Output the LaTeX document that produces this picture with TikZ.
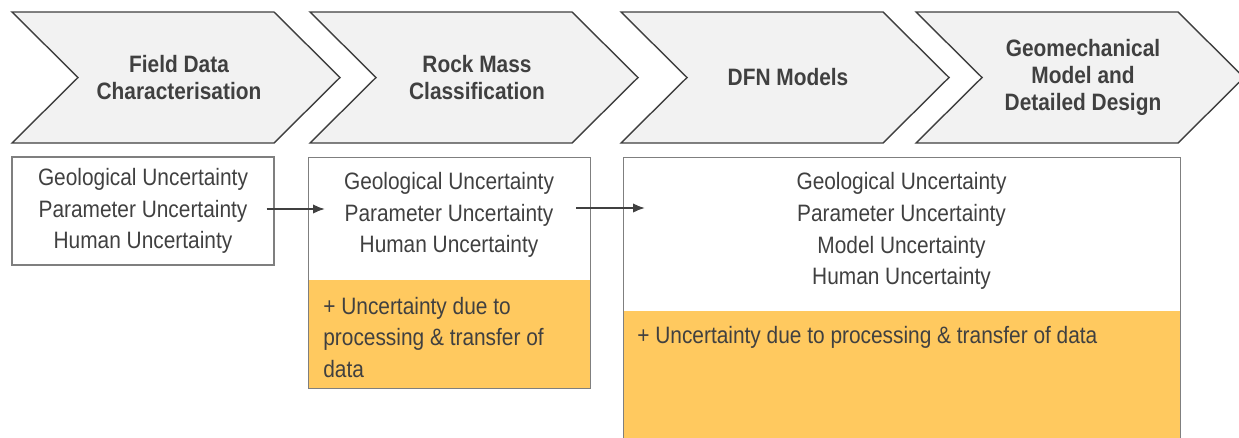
\documentclass[tikz,border=0pt]{standalone}
\usepackage{fontspec}
\setmainfont{Liberation Sans}[FakeStretch=0.88]
\usetikzlibrary{arrows.meta}
\usetikzlibrary{calc}
\definecolor{chevfill}{HTML}{F2F2F2}
\definecolor{chevline}{HTML}{3F3F3F}
\definecolor{boxline}{HTML}{7F7F7F}
\definecolor{txtgray}{HTML}{404040}
\definecolor{uncorange}{HTML}{FFC95F}
\tikzset{
    chevron/.style={draw=chevline,fill=chevfill,line width=0.8pt,line join=miter},
    headtext/.style={font=\fontsize{13.5}{15.3}\selectfont\bfseries,text=txtgray,align=center},
    uncbox/.style={draw=boxline,line width=0.6pt,inner sep=0pt},
    unctext/.style={font=\fontsize{13.5}{18.1}\selectfont,text=txtgray,align=center,inner sep=0pt},
    addfill/.style={fill=uncorange,inner sep=0pt},
    addtext/.style={font=\fontsize{13.5}{17.9}\selectfont,text=txtgray,align=left,inner sep=0pt},
    flowarrow/.style={-{Latex[length=2.4mm,width=1.9mm]},line width=1.1pt,draw=txtgray},
}

\begin{document}
\begin{tikzpicture}[x=0.02cm,y=-0.02cm]
\useasboundingbox (0,0) rectangle (1239,437);
% process steps
\foreach \x/\name/\txt in {12/fdhead/{Field Data\\Characterisation},310/rmhead/{Rock Mass\\Classification},621/dfnhead/{DFN Models},916/gmhead/{Geomechanical\\Model and\\Detailed Design}}{
    \draw[chevron] (\x,12) -- ++(262,0) -- ++(66,65.5) -- ++(-66,65.5) -- ++(-262,0) -- ++(66,-65.5) -- cycle;
    \node[headtext] (\name) at (\x+167,77.5) {\txt};
}
% uncertainty boxes
\node[uncbox,unctext,minimum width=5.24cm,minimum height=2.16cm] (fdbox) at (143,211) {Geological Uncertainty\\Parameter Uncertainty\\Human Uncertainty};
\node[addfill,anchor=north west,minimum width=5.64cm,minimum height=2.16cm] (rmadd) at (308,280) {};
\node[uncbox,anchor=north west,minimum width=5.64cm,minimum height=4.62cm] (rmbox) at (308,157) {};
\node[unctext] (rmtext) at (449,215) {Geological Uncertainty\\Parameter Uncertainty\\Human Uncertainty};
\node[addtext,anchor=north west] (rmaddtext) at (323,297) {+ Uncertainty due to\\processing \& transfer of\\data};
\node[addfill,anchor=north west,minimum width=11.14cm,minimum height=2.8cm] (dfnadd) at (623,311) {};
\node[uncbox,anchor=north west,minimum width=11.14cm,minimum height=6cm] (dfnbox) at (623,157) {};
\node[unctext] (dfntext) at (901.5,231) {Geological Uncertainty\\Parameter Uncertainty\\Model Uncertainty\\Human Uncertainty};
\node[addtext,anchor=north west] (dfnaddtext) at (637,326) {+ Uncertainty due to processing \& transfer of data};
% transfer
\draw[flowarrow] ($(fdbox.east)+(-8,-2)$) -- ($(fdbox.east -| rmbox.west)+(17,-2)$);
\draw[flowarrow] ($(rmtext.east)+(22,-7)$) -- ($(rmtext.east -| dfnbox.west)+(22,-7)$);
\end{tikzpicture}
\end{document}
